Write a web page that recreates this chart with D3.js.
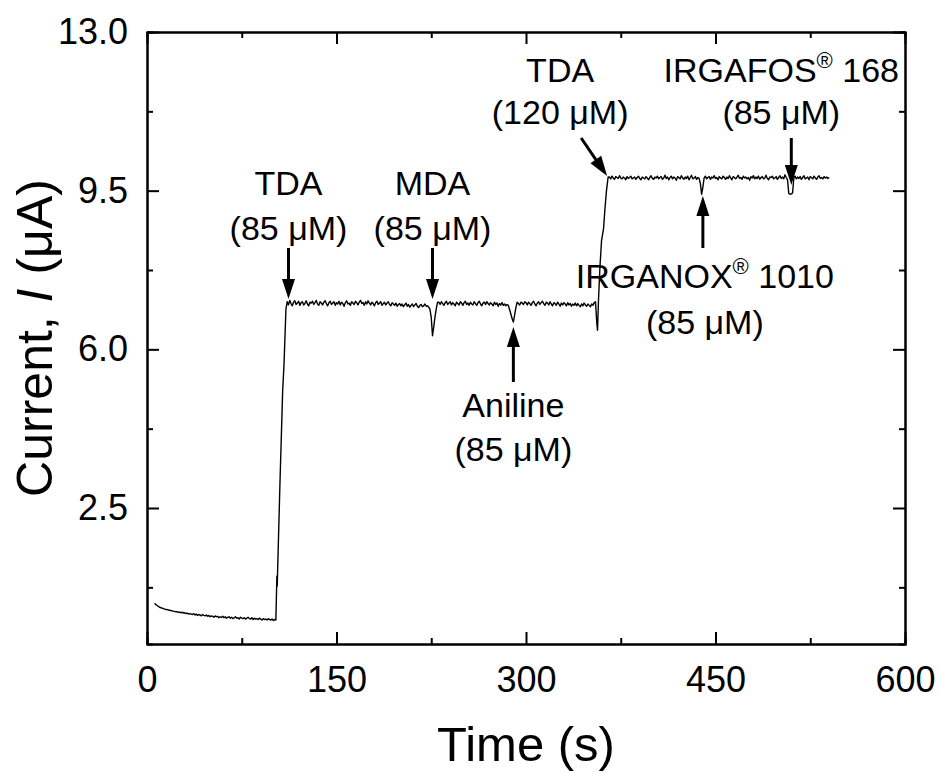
<!DOCTYPE html>
<html>
<head>
<meta charset="utf-8">
<script src="https://cdn.jsdelivr.net/npm/d3@7"></script>
<style>
body { margin: 0; background: #fff; }
text { font-family: "Liberation Sans", Arial, sans-serif; fill: #000; }
</style>
</head>
<body>
<script>
const baseStart = 6;     // s, first point of the baseline
const plat1Start = 111;  // s, first point after the first TDA step
const plat2Start = 366;  // s, first point after the second TDA step

const baseVals = [
  0.40,0.37,0.35,0.33,0.31,0.30,0.29,0.28,0.27,0.26,
  0.26,0.25,0.24,0.24,0.23,0.22,0.22,0.21,0.21,0.20,
  0.20,0.19,0.20,0.18,0.19,0.17,0.18,0.16,0.17,0.16,
  0.15,0.17,0.14,0.16,0.13,0.15,0.14,0.12,0.15,0.13,
  0.12,0.14,0.11,0.13,0.10,0.12,0.11,0.09,0.12,0.10,
  0.11,0.08,0.10,0.09,0.11,0.08,0.10,0.07,0.09,0.10,
  0.07,0.09,0.06,0.08,0.10,0.07,0.08,0.05,0.09,0.07,
  0.06,0.08,0.05,0.07,0.09,0.06,0.05,0.08,0.04,0.07,
  0.05,0.06,0.04,0.07,0.05,0.03,0.06,0.04,0.05,0.03,
  0.06,0.04,0.03,0.05,0.02,0.04,0.03
];

// first TDA addition (time, current)
const jump1 = [[102.6,0.74],[102.8,1.0],[103.1,0.78],[103.3,1.02],[105.2,3.0],[107.4,5.1],[108.5,5.7],[110,6.9]];

const plat1Vals = [
  7.05,6.98,7.08,7.01,6.96,7.04,7.07,6.99,7.02,7.06,
  6.97,7.03,7.05,6.98,7.01,7.07,7.00,6.96,7.04,7.02,
  7.06,6.99,7.03,7.08,7.00,6.97,7.05,7.02,6.98,7.04,
  7.07,7.01,6.96,7.03,7.06,6.99,7.02,7.05,6.97,7.03,
  7.00,7.06,6.98,7.04,7.01,6.95,7.03,7.07,7.00,7.02,
  6.97,7.05,7.02,6.99,7.06,7.03,6.98,7.04,7.08,7.01,
  7.03,6.97,7.05,7.00,7.07,7.02,6.98,7.04,7.01,6.96,
  7.03,7.06,6.99,7.02,7.05,6.97,7.01,7.04,6.98,7.02,
  7.05,6.99,6.96,7.03,7.00,6.97,7.02,6.95,6.99,7.01,
  6.96,7.00,6.94,6.98,7.02,6.95,6.99,6.93,6.97,7.00,
  6.94,6.98,7.01,6.95,6.92,6.97,6.99,6.94,6.96,7.00,
  6.95,6.96,6.93,6.88,6.70,6.30,6.50,6.72,6.90,7.04,
  7.04,6.99,7.05,7.01,6.97,7.03,7.06,6.99,7.02,7.05,
  6.98,7.03,7.00,6.96,7.04,7.01,6.98,7.05,7.02,6.97,
  7.03,7.06,6.99,7.02,6.97,7.04,7.00,6.98,7.05,7.01,
  6.97,7.03,7.06,7.00,6.96,7.02,7.04,6.99,7.05,7.01,
  6.98,7.03,7.00,6.96,7.04,6.99,7.02,6.95,7.01,6.98,
  7.03,6.97,7.00,6.96,6.99,6.97,6.88,6.78,6.68,6.60,
  6.76,6.92,7.04,7.01,6.98,7.04,7.02,6.99,7.05,7.03,
  6.98,7.04,7.01,6.97,7.03,7.06,7.00,6.96,7.02,7.05,
  6.99,7.03,7.06,7.01,6.97,7.04,7.02,6.98,7.05,7.00,
  6.96,7.03,7.01,6.97,7.04,7.00,6.95,7.02,6.98,7.03,
  7.00,6.96,7.03,6.98,7.01,6.95,7.00,6.97,7.02,6.96,
  7.01,6.97,6.94,7.00,6.96,7.02,6.98,6.95,7.00,6.97,
  6.94,7.00,6.97,7.03,7.05
];

// second TDA addition
const jump2 = [[356.0,6.6],[356.6,6.42],[357.4,7.1],[358.5,7.8],[359.8,8.4],[361.4,8.67],[362.5,9.1],[363.7,9.5],[365,9.8]];

const plat2Vals = [
  9.80,9.76,9.82,9.78,9.75,9.81,9.79,9.77,9.83,9.78,
  9.76,9.80,9.78,9.74,9.81,9.77,9.79,9.82,9.76,9.78,
  9.80,9.75,9.79,9.82,9.77,9.74,9.80,9.78,9.76,9.81,
  9.78,9.74,9.79,9.83,9.77,9.75,9.80,9.78,9.82,9.76,
  9.79,9.81,9.75,9.78,9.84,9.77,9.80,9.74,9.79,9.82,
  9.76,9.80,9.78,9.73,9.81,9.79,9.76,9.83,9.78,9.75,
  9.80,9.77,9.82,9.74,9.79,9.84,9.76,9.78,9.81,9.75,
  9.79,9.77,9.66,9.42,9.58,9.78,9.82,9.76,9.79,9.81,
  9.75,9.80,9.78,9.83,9.77,9.79,9.74,9.81,9.78,9.76,
  9.82,9.79,9.75,9.80,9.77,9.83,9.78,9.74,9.81,9.79,
  9.76,9.80,9.84,9.77,9.79,9.75,9.82,9.78,9.80,9.76,
  9.79,9.73,9.81,9.78,9.83,9.76,9.80,9.77,9.82,9.75,
  9.79,9.81,9.76,9.78,9.84,9.77,9.74,9.80,9.79,9.82,
  9.76,9.78,9.81,9.75,9.79,9.83,9.77,9.80,9.76,9.85,
  9.79,9.74,9.44,9.42,9.43,9.45,9.78,9.82,9.76,9.80,
  9.77,9.81,9.75,9.79,9.83,9.76,9.78,9.80,9.74,9.81,
  9.79,9.76,9.82,9.78,9.75,9.80,9.83,9.77,9.79,9.76,
  9.81,9.78,9.80,9.77,9.79
];

// additions marked with arrows
const eventTimes = [112, 226, 290, 365, 440, 510];
const eventNames = ["TDA", "MDA", "Aniline", "TDA", "IRGANOX", "IRGAFOS"];
const eventSuffix = ["", "", "", "", " 1010", " 168"];
const eventConcs = ["(85 \u03bcM)", "(85 \u03bcM)", "(85 \u03bcM)", "(120 \u03bcM)", "(85 \u03bcM)", "(85 \u03bcM)"];

const xTicks = [0, 150, 300, 450, 600];
const xMinor = [75, 225, 375, 525];
const yTicks = [2.5, 6.0, 9.5, 13.0];
const yMinor = [0.75, 4.25, 7.75, 11.25];

const W = 940, H = 774;
const m = {left: 147, right: 905, top: 32, bottom: 644};

const svg = d3.select("body").append("svg")
  .attr("width", W).attr("height", H);

const x = d3.scaleLinear().domain([0, 600]).range([m.left, m.right]);
const y = d3.scaleLinear().domain([-0.5, 13]).range([m.bottom, m.top]);

// put the stretches together
const trace = [].concat(
  baseVals.map((v, i) => [baseStart + i, v]),
  jump1,
  plat1Vals.map((v, i) => [plat1Start + i, v]),
  jump2,
  plat2Vals.map((v, i) => [plat2Start + i, v])
);

// axes, ticks pointing inwards on all four sides
const styleAxis = g => {
  g.selectAll(".domain").attr("stroke", "#000").attr("stroke-width", 2);
  g.selectAll(".tick line").attr("stroke", "#000").attr("stroke-width", 2);
  g.selectAll(".tick text").style("font-size", "36px").attr("fill", "#000");
};

svg.append("g").attr("transform", `translate(0,${m.bottom})`)
  .call(d3.axisBottom(x).tickValues(xTicks).tickSizeInner(-12).tickSizeOuter(0).tickPadding(22).tickFormat(d3.format("d")))
  .call(styleAxis);
svg.append("g").attr("transform", `translate(0,${m.bottom})`)
  .call(d3.axisBottom(x).tickValues(xMinor).tickSize(-6).tickFormat(""))
  .call(styleAxis);
svg.append("g").attr("transform", `translate(0,${m.top})`)
  .call(d3.axisTop(x).tickValues(xTicks).tickSizeInner(-12).tickSizeOuter(0).tickFormat(""))
  .call(styleAxis);
svg.append("g").attr("transform", `translate(0,${m.top})`)
  .call(d3.axisTop(x).tickValues(xMinor).tickSize(-6).tickFormat(""))
  .call(styleAxis);

svg.append("g").attr("transform", `translate(${m.left},0)`)
  .call(d3.axisLeft(y).tickValues(yTicks).tickSizeInner(-12).tickSizeOuter(0).tickPadding(19).tickFormat(d3.format(".1f")))
  .call(styleAxis);
svg.append("g").attr("transform", `translate(${m.left},0)`)
  .call(d3.axisLeft(y).tickValues(yMinor).tickSize(-6).tickFormat(""))
  .call(styleAxis);
svg.append("g").attr("transform", `translate(${m.right},0)`)
  .call(d3.axisRight(y).tickValues(yTicks).tickSizeInner(-12).tickSizeOuter(0).tickFormat(""))
  .call(styleAxis);
svg.append("g").attr("transform", `translate(${m.right},0)`)
  .call(d3.axisRight(y).tickValues(yMinor).tickSize(-6).tickFormat(""))
  .call(styleAxis);

// axis titles
svg.append("text")
  .attr("x", (m.left + m.right) / 2).attr("y", 761)
  .attr("text-anchor", "middle").style("font-size", "49px")
  .text("Time (s)");

const yTitle = svg.append("text")
  .attr("transform", `translate(52,${(m.top + m.bottom) / 2}) rotate(-90)`)
  .attr("text-anchor", "middle").style("font-size", "50px");
yTitle.append("tspan").text("Current, ");
yTitle.append("tspan").style("font-style", "italic").text("I");
yTitle.append("tspan").text(" (\u03bcA)");

// the trace
svg.append("path")
  .datum(trace)
  .attr("fill", "none")
  .attr("stroke", "#000")
  .attr("stroke-width", 1.4)
  .attr("stroke-linejoin", "round")
  .attr("d", d3.line().x(d => x(d[0])).y(d => y(d[1])));

// arrows: shaft + filled head
function arrow(x1, y1, x2, y2) {
  const a = Math.atan2(y2 - y1, x2 - x1);
  const len = 20, half = 6.5;
  const bx = x2 - len * Math.cos(a), by = y2 - len * Math.sin(a);
  svg.append("line")
    .attr("x1", x1).attr("y1", y1)
    .attr("x2", x2 - (len - 4) * Math.cos(a)).attr("y2", y2 - (len - 4) * Math.sin(a))
    .attr("stroke", "#000").attr("stroke-width", 3);
  svg.append("path")
    .attr("d", `M${x2},${y2}L${bx + half * Math.sin(a)},${by - half * Math.cos(a)}L${bx - half * Math.sin(a)},${by + half * Math.cos(a)}Z`)
    .attr("fill", "#000");
}

function label(cx, y1, y2, i) {
  const t1 = svg.append("text").attr("x", cx).attr("y", y1)
    .attr("text-anchor", "middle").style("font-size", "34px");
  t1.append("tspan").text(eventNames[i]);
  if (eventSuffix[i]) {
    t1.append("tspan").attr("dy", -14).style("font-size", "22px").text("\u00ae");
    t1.append("tspan").attr("dy", 14).text(eventSuffix[i]);
  }
  svg.append("text").attr("x", cx).attr("y", y2)
    .attr("text-anchor", "middle").style("font-size", "34px")
    .text(eventConcs[i]);
}

// TDA 85, MDA 85: down arrows
[0, 1].forEach(i => {
  const ax = x(eventTimes[i]);
  arrow(ax, 248, ax, 299);
  label(ax, 195, 240, i);
});
// Aniline: up arrow
{
  const ax = x(eventTimes[2]);
  arrow(ax, 382, ax, 327);
  label(ax, 417, 461, 2);
}
// TDA 120: slanted arrow
{
  const ax = x(eventTimes[3]);
  arrow(ax - 27, 138, ax - 1, 176);
  label(ax - 48, 82, 124, 3);
}
// IRGANOX: up arrow
{
  const ax = x(eventTimes[4]);
  arrow(ax, 248, ax, 196);
  label(ax + 2, 288, 334, 4);
}
// IRGAFOS: down arrow
{
  const ax = x(eventTimes[5]);
  arrow(ax, 138, ax, 185);
  label(ax - 10, 82, 124, 5);
}
</script>
</body>
</html>
